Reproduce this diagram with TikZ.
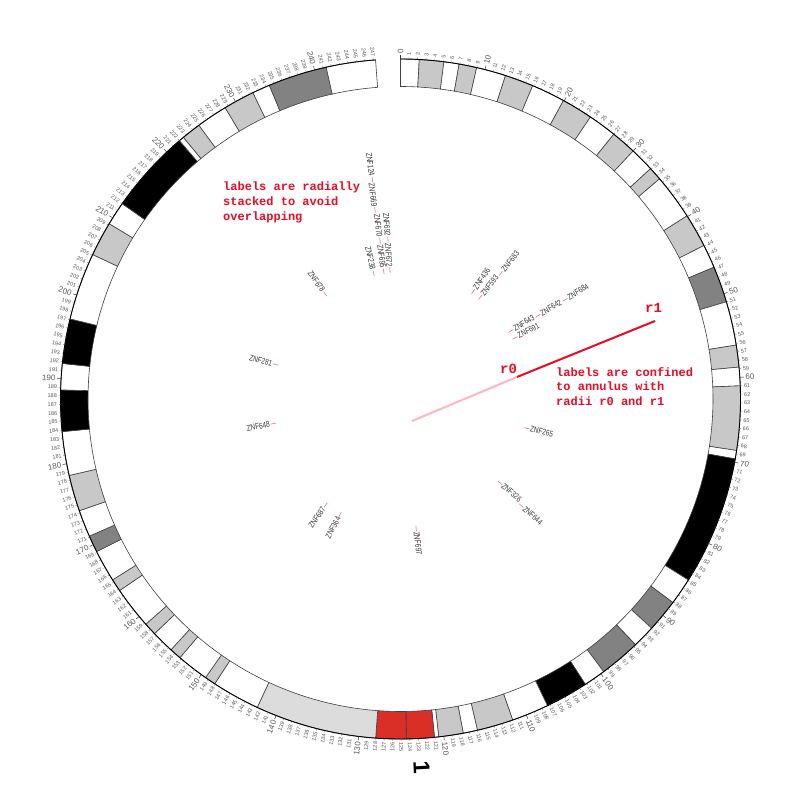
\documentclass[tikz,border=0pt]{standalone}
\usepackage{fontspec}
\setmainfont{Liberation Sans}
\newfontfamily\monof{Liberation Mono}
\definecolor{bW}{RGB}{255,255,255}
\definecolor{bL}{RGB}{200,200,200}
\definecolor{bD}{RGB}{130,130,130}
\definecolor{bK}{RGB}{0,0,0}
\definecolor{bA}{RGB}{217,47,39}
\definecolor{bV}{RGB}{220,220,220}
\definecolor{annred}{RGB}{236,10,36}
\definecolor{annpink}{RGB}{255,182,193}
\definecolor{gdash}{RGB}{240,110,135}
\definecolor{glabc}{RGB}{55,55,55}
\definecolor{tickc}{RGB}{90,90,90}
\begin{document}
\begin{tikzpicture}[x=1pt,y=1pt,
  bandline/.style={draw=black!75,line width=0.6pt},
  ticklbl/.style={inner sep=0pt,text=tickc},
  gene/.style={inner sep=0.5pt,text=glabc,font=\fontsize{8.3}{8.3}\selectfont},
  genedash/.style={draw=gdash,line width=0.6pt},
  annot/.style={inner sep=0pt,text=annred,font=\monof\bfseries\fontsize{12}{12}\selectfont},
  annotbig/.style={inner sep=0pt,text=annred,font=\monof\bfseries\fontsize{14}{14}\selectfont}]
\useasboundingbox (0,0) rectangle (800,800);
\fill[white] (0,0) rectangle (800,800);
\def\sc{1.439}
\def\Rin{312.5}
\def\Rout{340}
\begin{scope}[shift={(400.5,401)}]
\coordinate (C) at (0,0);
% bands
\foreach \s/\e/\c in {0/2.2/bW,2.2/5.1/bL,5.1/6.9/bW,6.9/9.0/bL,9.0/12.5/bW,12.5/15.9/bL,15.9/19.9/bW,19.9/23.6/bL,23.6/27.0/bW,27.0/30.0/bL,30.0/32.9/bW,32.9/34.5/bL,34.5/39.9/bW,39.9/43.9/bL,43.9/46.7/bW,46.7/51.0/bD,51.0/56.2/bW,56.2/58.8/bL,58.8/61.0/bW,61.0/68.6/bL,68.6/69.6/bW,69.6/84.9/bK,84.9/88.1/bW,88.1/92.0/bD,92.0/94.7/bW,94.7/99.6/bD,99.6/102.2/bW,102.2/107.3/bK,107.3/111.7/bW,111.7/116.0/bL,116.0/117.7/bW,117.7/120.6/bL,120.6/121.1/bW,121.1/124.4/bA,124.4/128.0/bA,128.0/142.4/bV,142.4/148.1/bW,148.1/149.4/bL,149.4/153.2/bW,153.2/154.6/bL,154.6/157.3/bW,157.3/158.8/bL,158.8/163.8/bW,163.8/165.3/bL,165.3/169.1/bW,169.1/171.1/bD,171.1/174.3/bW,174.3/178.6/bL,178.6/183.8/bW,183.8/188.7/bK,188.7/191.8/bW,191.8/197.1/bK,197.1/205.1/bW,205.1/209.2/bL,209.2/212.0/bW,212.0/222.0/bK,222.0/222.6/bW,222.6/224.9/bL,224.9/228.6/bW,228.6/232.3/bL,232.3/234.4/bW,234.4/241.4/bD,241.4/247.25/bW}{
  \pgfmathsetmacro\a{90-\s*\sc}
  \pgfmathsetmacro\b{90-\e*\sc}
  \filldraw[fill=\c,bandline] (\a:\Rin pt) arc[start angle=\a,end angle=\b,radius=\Rin pt] -- (\b:\Rout pt) arc[start angle=\b,end angle=\a,radius=\Rout pt] -- cycle;
}
\pgfmathsetmacro\endang{90-247.25*\sc}
\draw[line width=0.9pt] (90:\Rout pt) arc[start angle=90,end angle=\endang,radius=\Rout pt];
% ticks and labels
\foreach \i in {0,...,247}{
  \pgfmathsetmacro\a{90-\i*\sc}
  \pgfmathtruncatemacro\m{mod(\i,10)}
  \pgfmathtruncatemacro\lft{(\i*\sc>180) ? 1 : 0}
  \ifnum\m=0
    \draw[line width=0.5pt,black!80] (\a:\Rout pt) -- (\a:344pt);
    \def\fs{\fontsize{8}{8}\selectfont}\def\rl{345.5}
  \else
    \draw[line width=0.3pt,black!60] (\a:\Rout pt) -- (\a:342pt);
    \def\fs{\fontsize{5.5}{5.5}\selectfont}\def\rl{343.5}
  \fi
  \ifnum\lft=0
    \node[ticklbl,anchor=west,rotate=\a,font=\fs] (t\i) at (\a:\rl pt) {\i};
  \else
    \pgfmathsetmacro\b{\a+180}
    \node[ticklbl,anchor=east,rotate=\b,font=\fs] (t\i) at (\a:\rl pt) {\i};
  \fi
}
% chromosome label
\node[inner sep=0pt,rotate=-87,font=\bfseries\fontsize{23}{23}\selectfont] (chr) at (21,-368) {1};
% gene labels
\foreach \n/\t/\r in {ZNF436/34.06/127,ZNF593/38.1/126.5,ZNF683/38.6/158,ZNF643/58.35/127,ZNF642/58.8/158,ZNF684/58.9/189.5,ZNF691/61.94/127,ZNF265/103.06/127,ZNF326/130.15/127.5,ZNF644/131.44/158.5,ZNF697/173.1/127.5,ZNF364/207.65/127.5,ZNF687/215.2/127,ZNF648/259.04/127,ZNF281/285.43/127,ZNF678/324.38/126.5,ZNF238/347.94/126,ZNF695/352.5/126,ZNF670/352.65/157,ZNF669/352.3/188,ZNF124/352.7/218.5,ZNF672/355.3/126.5,ZNF692/355.5/157}{
  \pgfmathsetmacro\a{90-\t}
  \pgfmathsetmacro\rb{\r+5.5}
  \pgfmathtruncatemacro\lft{(\t>180) ? 1 : 0}
  \coordinate (d\n) at (\a:\r pt);
  \ifnum\lft=0
    \node[gene,anchor=west,rotate=\a] (g\n) at (\a:\rb pt) {\scalebox{0.78}[1]{\n}};
    \draw[genedash] (d\n) -- (g\n.west);
  \else
    \pgfmathsetmacro\b{\a+180}
    \node[gene,anchor=east,rotate=\b] (g\n) at (\a:\rb pt) {\scalebox{0.78}[1]{\n}};
    \draw[genedash] (d\n) -- (g\n.east);
  \fi
}
\end{scope}
% annotation
\coordinate (p0) at (412,379);
\coordinate (p1) at (517,423);
\coordinate (p2) at (655,479);
\draw[annpink,line width=2pt] (p0) -- (p1);
\draw[annred,line width=2pt] (p1) -- (p2);
\node[annotbig,anchor=base west] (r0) at (500,426.5) {r0};
\node[annotbig,anchor=base west] (r1) at (645,487) {r1};
\node[annot,anchor=base west] (a1) at (223,609.5) {labels are radially};
\node[annot,anchor=base west] (a2) at (223,594.5) {stacked to avoid};
\node[annot,anchor=base west] (a3) at (223,579.5) {overlapping};
\node[annot,anchor=base west] (b1) at (556,423.5) {labels are confined};
\node[annot,anchor=base west] (b2) at (556,409) {to annulus with};
\node[annot,anchor=base west] (b3) at (556,394.5) {radii r0 and r1};
\end{tikzpicture}
\end{document}
